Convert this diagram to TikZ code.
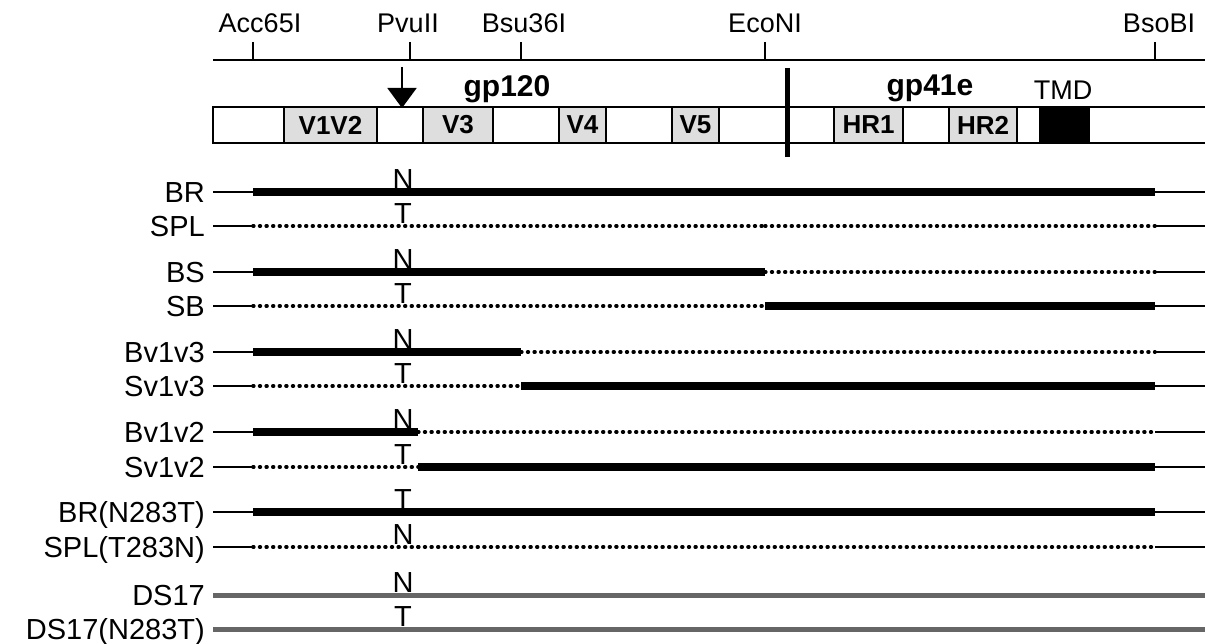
\documentclass[tikz,border=0pt]{standalone}
\usepackage{fontspec}
\setmainfont{Liberation Sans}
\usetikzlibrary{arrows.meta}
\definecolor{boxgray}{gray}{0.87}
\definecolor{dsgray}{gray}{0.4}
\tikzset{
  sitelab/.style={font=\fontsize{27}{32}\selectfont, anchor=base, inner sep=0pt},
  rowlab/.style={font=\fontsize{29}{34}\selectfont, anchor=base east, inner sep=0pt},
  resid/.style={font=\fontsize{29}{34}\selectfont, anchor=base, inner sep=0pt},
  protlab/.style={font=\bfseries\fontsize{30}{36}\selectfont, anchor=base, inner sep=0pt},
  region/.style={draw=black, line width=2pt, fill=boxgray, minimum height=36pt, inner sep=0pt, font=\bfseries\fontsize{26}{30}\selectfont},
  tmdbox/.style={draw=black, line width=2pt, fill=black, minimum height=36pt, inner sep=0pt},
  ruler/.style={line width=2pt},
  thinline/.style={line width=2.2pt},
  thickline/.style={line width=8pt},
  dotline/.style={line width=3.6pt, line cap=round, dash pattern=on 0.8pt off 5.8pt},
  dsline/.style={line width=5pt, draw=dsgray},
}
\newcommand\mkrow[6]{%
  \node[rowlab] (#1lab) at (205,#2+10.5) {#3};
  \coordinate (#1s) at (213,#2);
  \coordinate (#1a) at (253,#2);
  \coordinate (#1j) at (#4,#2);
  \coordinate (#1e) at (1155,#2);
  \coordinate (#1r) at (1205,#2);
  \draw[thinline] (#1s) -- (#1a);
  \draw[#5] (#1a) -- (#1j);
  \draw[#6] (#1j) -- (#1e);
  \draw[thinline] (#1e) -- (#1r);
}
\newcommand\mkres[3]{\node[resid] (#1res) at (403,#2-2.5) {#3};}
\begin{document}
\begin{tikzpicture}[x=1pt,y=-1pt]
\useasboundingbox (0,0) rectangle (1205,644);
% ruler
\coordinate (rulL) at (213,60);
\coordinate (rulR) at (1206,60);
\draw[ruler] (rulL) -- (rulR);
\foreach \nm/\xx in {acc/253,pvu/410,bsu/521,eco/765,bso/1155}{
  \coordinate (\nm t) at (\xx,42);
  \coordinate (\nm b) at (\xx,60);
  \draw[ruler] (\nm t) -- (\nm b);
}
\node[sitelab] (accl) at (260,33) {Acc65I};
\node[sitelab] (pvul) at (408,33) {PvuII};
\node[sitelab] (bsul) at (524,33) {Bsu36I};
\node[sitelab] (ecol) at (765,33) {EcoNI};
\node[sitelab] (bsol) at (1159,33) {BsoBI};
% gene map
\draw[line width=2pt, fill=white] (213,107) -- (1210,107) -- (1210,143) -- (213,143) -- cycle;
\node[region, minimum width=93pt] (v1v2) at (330.5,125) {V1V2};
\node[region, minimum width=70pt] (v3) at (458,125) {V3};
\node[region, minimum width=47pt] (v4) at (582.5,125) {V4};
\node[region, minimum width=47pt] (v5) at (695.5,125) {V5};
\node[region, minimum width=69pt] (hr1) at (868.5,125) {HR1};
\node[region, minimum width=68pt] (hr2) at (983,125) {HR2};
\node[tmdbox, minimum width=49pt] (tmd) at (1064.5,125) {};
\node[protlab] (gp120) at (507,96.5) {gp120};
\node[protlab] (gp41) at (930,96) {gp41e};
\node[sitelab] (tmdl) at (1063,100) {TMD};
\coordinate (bart) at (787,68);
\coordinate (barb) at (787,157);
\draw[line width=5pt] (bart) -- (barb);
\coordinate (arrt) at (402,67);
\coordinate (arrb) at (402,108);
\draw[line width=2pt, -{Triangle[width=29pt,length=20pt]}] (arrt) -- (arrb);
% construct rows
\mkrow{br}{192}{BR}{765}{thickline}{thickline}
\mkrow{spl}{226}{SPL}{765}{dotline}{dotline}
\mkrow{bs}{272}{BS}{765}{thickline}{dotline}
\mkrow{sb}{306}{SB}{765}{dotline}{thickline}
\mkrow{bvt}{352}{Bv1v3}{521}{thickline}{dotline}
\mkrow{svt}{386}{Sv1v3}{521}{dotline}{thickline}
\mkrow{bvb}{432}{Bv1v2}{418}{thickline}{dotline}
\mkrow{svb}{467}{Sv1v2}{418}{dotline}{thickline}
\mkrow{brm}{512}{BR(N283T)}{418}{thickline}{thickline}
\mkrow{splm}{547}{SPL(T283N)}{418}{dotline}{dotline}
% DS17 rows
\node[rowlab] (dslab) at (205,605.5) {DS17};
\coordinate (dss) at (213,595);
\coordinate (dsr) at (1205,595);
\draw[dsline] (dss) -- (dsr);
\node[rowlab] (dsmlab) at (205,639.5) {DS17(N283T)};
\coordinate (dsms) at (213,629);
\coordinate (dsmr) at (1205,629);
\draw[dsline] (dsms) -- (dsmr);
% residues
\mkres{br}{192}{N}
\mkres{spl}{226}{T}
\mkres{bs}{272}{N}
\mkres{sb}{306}{T}
\mkres{bvt}{352}{N}
\mkres{svt}{386}{T}
\mkres{bvb}{432}{N}
\mkres{svb}{467}{T}
\mkres{brm}{512}{T}
\mkres{splm}{547}{N}
\mkres{ds}{595}{N}
\mkres{dsm}{629}{T}
\end{tikzpicture}
\end{document}
